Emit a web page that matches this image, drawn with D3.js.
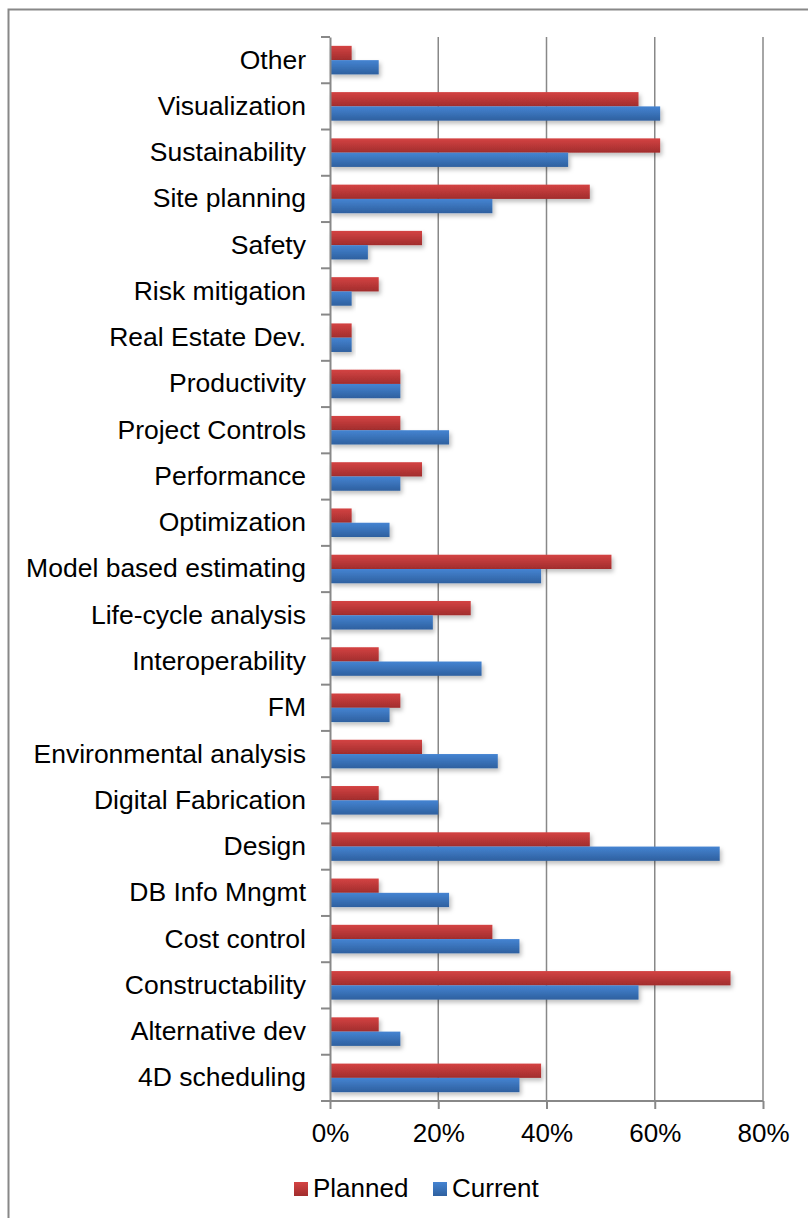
<!DOCTYPE html>
<html><head><meta charset="utf-8">
<script src="https://cdn.jsdelivr.net/npm/d3@7"></script>
<style>body{margin:0;background:#fff}text{font-family:"Liberation Sans",Arial,sans-serif}</style>
</head><body><svg id="c" width="808" height="1218"></svg>
<script>
const categories=["Other","Visualization","Sustainability","Site planning","Safety","Risk mitigation","Real Estate Dev.","Productivity","Project Controls","Performance","Optimization","Model based estimating","Life-cycle analysis","Interoperability","FM","Environmental analysis","Digital Fabrication","Design","DB Info Mngmt","Cost control","Constructability","Alternative dev","4D scheduling"];
const planned=[4,57,61,48,17,9,4,13,13,17,4,52,26,9,13,17,9,48,9,30,74,9,39];
const current=[9,61,44,30,7,4,4,13,22,13,11,39,19,28,11,31,20,72,22,35,57,13,35];
const seriesNames=["Planned","Current"];
const xTicks=[0,20,40,60,80];

const svg=d3.select("#c");
const defs=svg.append("defs");
function grad(id,top,bot){const g=defs.append("linearGradient").attr("id",id).attr("x1",0).attr("x2",0).attr("y1",0).attr("y2",1);
g.append("stop").attr("offset","0%").attr("stop-color",top);g.append("stop").attr("offset","100%").attr("stop-color",bot);}
grad("gr","#d44343","#a12d2d");grad("gb","#4584d2","#2e609f");
const f=defs.append("filter").attr("id","sh").attr("x","-10%").attr("y","-30%").attr("width","130%").attr("height","200%");
f.append("feDropShadow").attr("dx",2).attr("dy",3).attr("stdDeviation",2).attr("flood-color","#000").attr("flood-opacity",0.25);

// outer border
svg.append("path").attr("d","M8.5,1218 L8.5,9.5 L808,9.5").attr("fill","none").attr("stroke","#888").attr("stroke-width",2);

const x=d3.scaleLinear().domain([0,80]).range([330,763]);
const y=d3.scaleBand().domain(categories).range([37,1101]);
const inner=d3.scaleBand().domain(seriesNames).range([0,y.bandwidth()]).paddingOuter(0.62).paddingInner(0);

// gridlines
svg.append("g").selectAll("line").data(xTicks.slice(1)).join("line")
 .attr("x1",d=>x(d)).attr("x2",d=>x(d)).attr("y1",37).attr("y2",1101).attr("stroke","#888").attr("stroke-width",1.5);

const data=categories.map((c,i)=>({c,vals:[{s:"Planned",v:planned[i]},{s:"Current",v:current[i]}]}));
const gb=svg.append("g");
data.forEach(d=>{
 d.vals.forEach(o=>{
  gb.append("rect").attr("x",x(0)).attr("y",y(d.c)+inner(o.s)).attr("width",x(o.v)-x(0)).attr("height",inner.bandwidth())
   .attr("fill",o.s==="Planned"?"url(#gr)":"url(#gb)").attr("filter","url(#sh)");
 });
});

// axes
const ya=svg.append("g").attr("transform","translate(330,0)").call(d3.axisLeft(y).tickSize(0).tickPadding(24));
ya.select(".domain").attr("stroke","#888").attr("stroke-width",2);
ya.selectAll("text").attr("font-size",26.5).attr("fill","#000");
// category boundary ticks
svg.append("g").selectAll("line").data(d3.range(categories.length+1)).join("line")
 .attr("x1",321).attr("x2",330).attr("y1",i=>37+i*y.step()).attr("y2",i=>37+i*y.step()).attr("stroke","#888").attr("stroke-width",2);

const xa=svg.append("g").attr("transform","translate(0,1101)").call(d3.axisBottom(x).tickValues(xTicks).tickFormat(d=>d+"%").tickSize(8).tickPadding(15));
xa.select(".domain").attr("stroke","#888").attr("stroke-width",2).attr("d","M330,0H763");
xa.selectAll("line").attr("stroke","#888").attr("stroke-width",2);
xa.selectAll("text").attr("font-size",26).attr("fill","#000");

// legend
const lg=svg.append("g");
const leg=[{n:"Planned",f:"url(#gr)",x:294},{n:"Current",f:"url(#gb)",x:433}];
leg.forEach(l=>{
 lg.append("rect").attr("x",l.x).attr("y",1182).attr("width",14).attr("height",14).attr("fill",l.f);
 lg.append("text").attr("x",l.x+19).attr("y",1197).attr("font-size",26).text(l.n);
});
</script></body></html>
